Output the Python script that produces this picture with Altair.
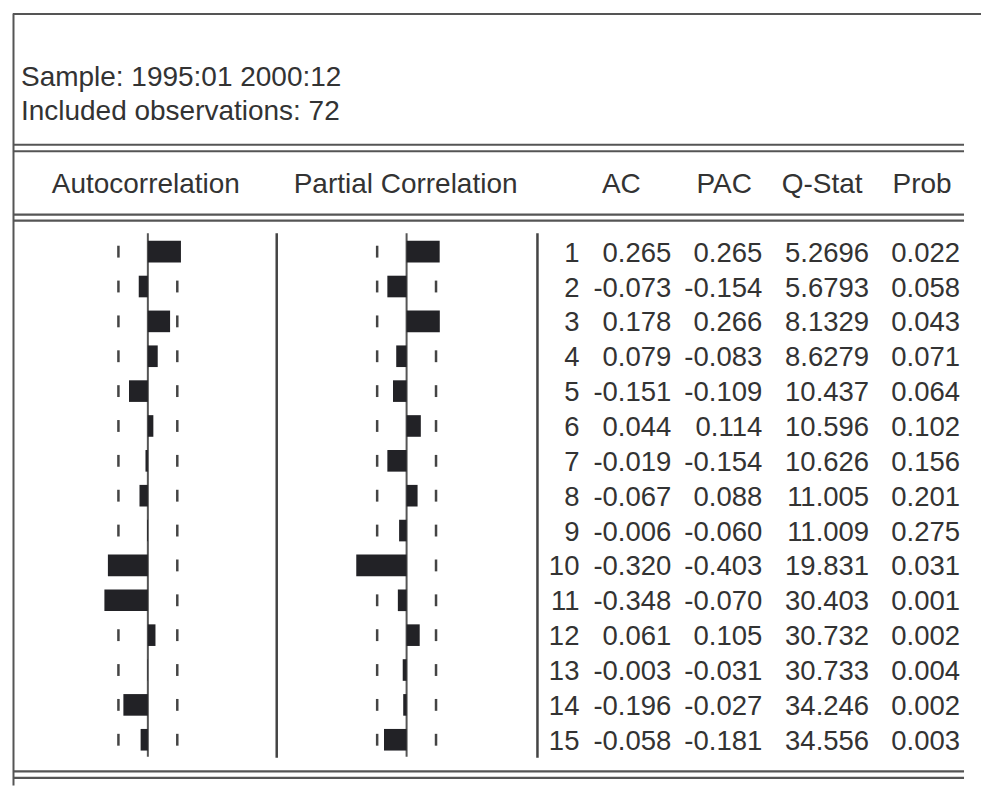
import altair as alt
import pandas as pd

# ---------------- data ----------------
sample_line = "Sample: 1995:01 2000:12"
obs_line = "Included observations: 72"
n_obs = 72
lags = list(range(1, 16))
ac = [0.265, -0.073, 0.178, 0.079, -0.151, 0.044, -0.019, -0.067, -0.006,
      -0.320, -0.348, 0.061, -0.003, -0.196, -0.058]
pac = [0.265, -0.154, 0.266, -0.083, -0.109, 0.114, -0.154, 0.088, -0.060,
       -0.403, -0.070, 0.105, -0.031, -0.027, -0.181]
qstat = [5.2696, 5.6793, 8.1329, 8.6279, 10.437, 10.596, 10.626, 11.005,
         11.009, 19.831, 30.403, 30.732, 30.733, 34.246, 34.556]
prob = [0.022, 0.058, 0.043, 0.071, 0.064, 0.102, 0.156, 0.201, 0.275,
        0.031, 0.001, 0.002, 0.004, 0.002, 0.003]
col_headers = ["Autocorrelation", "Partial Correlation", "AC", "PAC", "Q-Stat", "Prob"]
conf_band = 2 / n_obs ** 0.5

# ---------------- tables built from the data ----------------
df = pd.DataFrame({
    "lag": lags, "ac": ac, "pac": pac,
    "lag_s": [str(l) for l in lags],
    "ac_s": [f"{v:.3f}" for v in ac],
    "pac_s": [f"{v:.3f}" for v in pac],
    "q_s": [f"{v:.5g}" for v in qstat],
    "p_s": [f"{v:.3f}" for v in prob],
})
conf_df = pd.DataFrame(
    [{"lag": l, "b": s * conf_band} for l in lags for s in (-1, 1)]
)
dummy = pd.DataFrame({"d": [0]})

# ---------------- layout ----------------
W, H = 974, 778
ROW0, ROWH = 243.5, 34.9
PX_PER_UNIT = 125.0
ACF_ZERO, PACF_ZERO = 140.0, 399.0
FONT = "Liberation Sans"
TXT = "#333333"
LINE = "#555555"

yscale = alt.Scale(domain=[1 - ROW0 / ROWH, 1 + (H - ROW0) / ROWH],
                   reverse=True, nice=False, zero=False)
acf_x = alt.Scale(domain=[-ACF_ZERO / PX_PER_UNIT, (W - ACF_ZERO) / PX_PER_UNIT],
                  nice=False, zero=False)
pacf_x = alt.Scale(domain=[-PACF_ZERO / PX_PER_UNIT, (W - PACF_ZERO) / PX_PER_UNIT],
                   nice=False, zero=False)


def panel(field, xs):
    dashes = alt.Chart(conf_df).transform_calculate(
        dlo="datum.lag - 0.17", dhi="datum.lag + 0.17"
    ).mark_rule(color="#444444", strokeWidth=2.5).encode(
        x=alt.X("b:Q", scale=xs, axis=None),
        y=alt.Y("dlo:Q", scale=yscale, axis=None),
        y2="dhi:Q",
    )
    zero = alt.Chart(dummy).mark_rule(color=LINE, strokeWidth=2).encode(
        x=alt.X("d:Q", scale=xs, axis=None),
        y=alt.value(225), y2=alt.value(749),
    )
    bars = alt.Chart(df).transform_calculate(
        zero="0", ylo="datum.lag - 0.31", yhi="datum.lag + 0.31"
    ).mark_rect(color="#222226").encode(
        x=alt.X(f"{field}:Q", scale=xs, axis=None),
        x2="zero:Q",
        y=alt.Y("ylo:Q", scale=yscale, axis=None),
        y2="yhi:Q",
    )
    return alt.layer(dashes, zero, bars)


def hline(x1, x2, y, w=2.2, color=LINE):
    return alt.Chart(dummy).mark_rule(color=color, strokeWidth=w).encode(
        x=alt.value(x1), x2=alt.value(x2), y=alt.value(y))


def vline(x, y1, y2, w=2.2, color=LINE):
    return alt.Chart(dummy).mark_rule(color=color, strokeWidth=w).encode(
        x=alt.value(x), y=alt.value(y1), y2=alt.value(y2))


def label(text, x, y, align="left", size=28):
    return alt.Chart(dummy).mark_text(
        text=text, align=align, baseline="alphabetic", font=FONT,
        fontSize=size, color=TXT).encode(x=alt.value(x), y=alt.value(y))


def column(field, x_right):
    return alt.Chart(df).mark_text(
        align="right", baseline="alphabetic", dy=10, font=FONT,
        fontSize=27.5, color=TXT).encode(
        x=alt.value(x_right),
        y=alt.Y("lag:Q", scale=yscale, axis=None),
        text=f"{field}:N")


frame = [
    hline(5, W, 5.5, 2),
    vline(5.5, 5, H, 2),
    hline(5, 957, 136.5), hline(5, 957, 143),
    hline(5, 957, 206.5), hline(5, 957, 212.5),
    hline(5, 957, 763.7), hline(5, 957, 770.3),
    vline(269, 225, 750, 2.5, "#444444"),
    vline(530, 225, 750, 2.5, "#444444"),
]

texts = [
    label(sample_line, 13, 78),
    label(obs_line, 13, 112),
]
header_x = [138, 398, 614, 717, 815, 915]
for h, hx in zip(col_headers, header_x):
    texts.append(label(h, hx, 184.5, align="center"))

cols = [column("lag_s", 572), column("ac_s", 664), column("pac_s", 755),
        column("q_s", 862), column("p_s", 953)]

chart = alt.layer(
    panel("ac", acf_x), panel("pac", pacf_x), *frame, *texts, *cols
).resolve_scale(x="independent").properties(
    width=W, height=H, padding=0, background="white"
).configure_view(stroke=None)

chart.save("out.html", embed_options={"renderer": "svg", "actions": False})
